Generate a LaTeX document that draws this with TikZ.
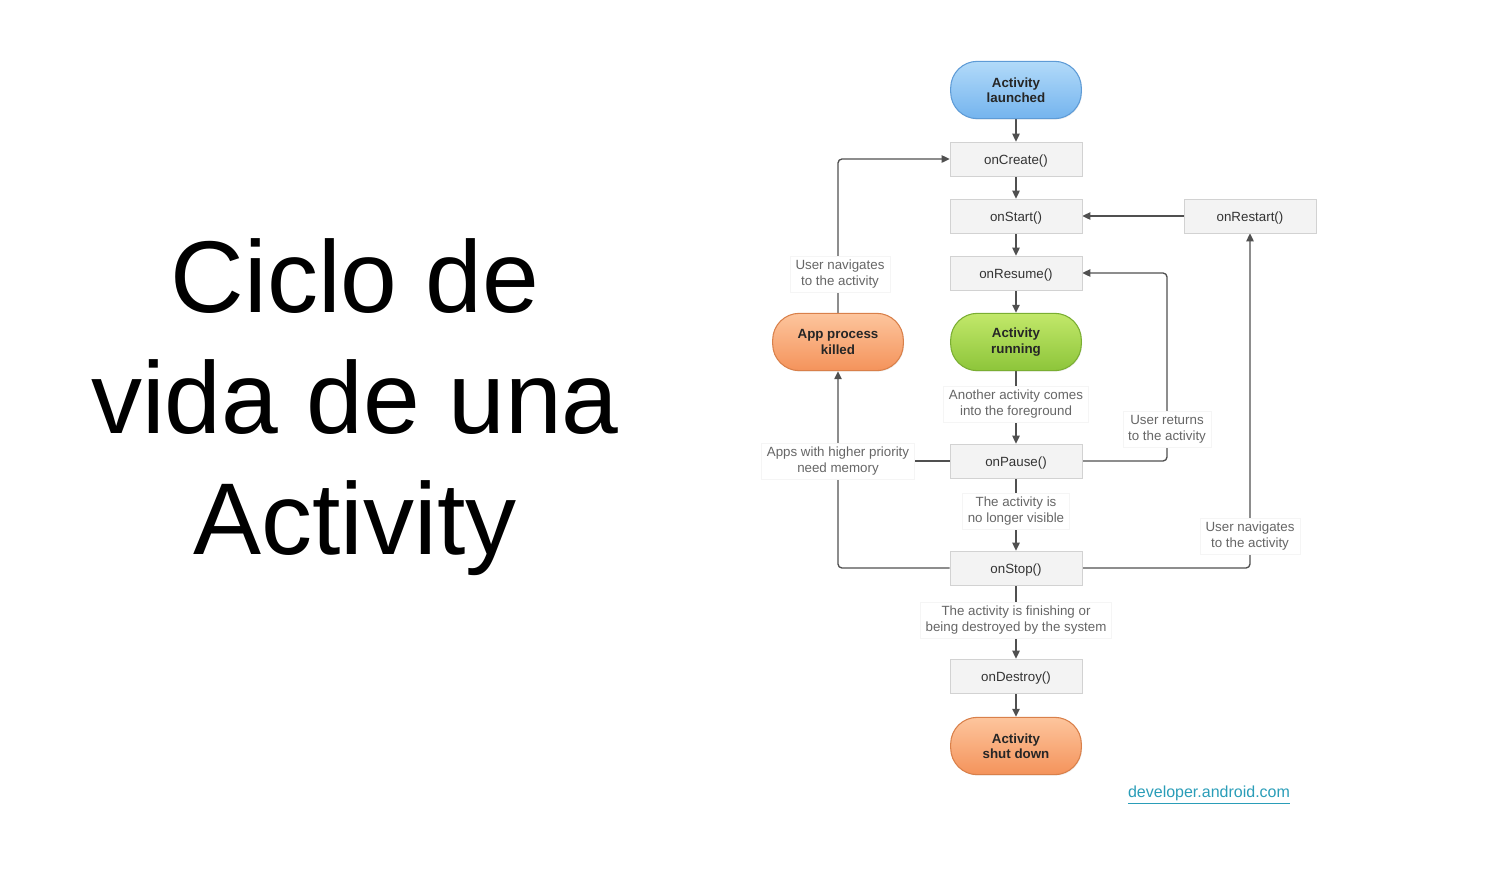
\documentclass[tikz,border=0pt]{standalone}
\usepackage{fontspec}
\setmainfont{Liberation Sans}
\usetikzlibrary{arrows.meta,shadows,backgrounds}
\definecolor{boxfill}{HTML}{F3F3F3}
\definecolor{boxline}{HTML}{D2D2D2}
\definecolor{txt}{HTML}{333333}
\definecolor{notetxt}{HTML}{666666}
\definecolor{linec}{HTML}{505050}
\definecolor{bluetop}{HTML}{B2DAF9}
\definecolor{bluebot}{HTML}{74B4EE}
\definecolor{blueline}{HTML}{5E9BD6}
\definecolor{greentop}{HTML}{C2E86A}
\definecolor{greenbot}{HTML}{8DC53A}
\definecolor{greenline}{HTML}{7AAE32}
\definecolor{orangetop}{HTML}{FDC59D}
\definecolor{orangebot}{HTML}{F4935B}
\definecolor{orangeline}{HTML}{D9804A}
\definecolor{link}{HTML}{2A9DB8}
\begin{document}
\begin{tikzpicture}[x=0.75pt,y=-0.75pt,
  method/.style={draw=boxline, fill=boxfill, minimum width=99pt, minimum height=25.5pt, inner sep=0pt,
    text height=9pt, text depth=1pt,
    font=\fontsize{10}{12}\selectfont, text=txt,
    drop shadow={opacity=0.12, shadow xshift=0.6pt, shadow yshift=-0.8pt}},
  pill/.style={rounded corners=20pt, minimum width=98pt, minimum height=43pt, inner sep=0pt, align=center,
    font=\bfseries\fontsize{10}{11.5}\selectfont, text=black!85, line width=0.8pt,
    drop shadow={opacity=0.12, shadow xshift=0.6pt, shadow yshift=-0.8pt}},
  bluepill/.style={pill, draw=blueline, top color=bluetop, bottom color=bluebot},
  greenpill/.style={pill, draw=greenline, top color=greentop, bottom color=greenbot},
  orangepill/.style={pill, draw=orangeline, top color=orangetop, bottom color=orangebot},
  note/.style={fill=white, draw=black!4, align=center, font=\fontsize{10}{12}\selectfont, text=notetxt,
    inner xsep=4pt, inner ysep=3pt},
  arr/.style={draw=linec, line width=1pt, -{Triangle[length=6pt,width=5.5pt]}, rounded corners=3pt},
  ln/.style={draw=linec, line width=1pt, rounded corners=3pt}
]
\useasboundingbox (0,0) rectangle (1503,868);

% title
\node[font=\fontsize{76.5}{90.75}\selectfont, align=center, text=black] (title) at (355,407)
  {Ciclo de\\vida de una\\Activity};

% pills
\node[bluepill] (launched) at (1016,90) {Activity\\launched};
\node[greenpill] (running) at (1016,342) {Activity\\running};
\node[orangepill] (killed) at (838,342) {App process\\killed};
\node[orangepill] (shutdown) at (1016,746) {Activity\\shut down};

% methods
\node[method] (create) at (1016,159) {onCreate()};
\node[method] (start) at (1016,216) {onStart()};
\node[method] (restart) at (1250,216) {onRestart()};
\node[method] (resume) at (1016,273) {onResume()};
\node[method] (pause) at (1016,461) {onPause()};
\node[method] (stop) at (1016,568) {onStop()};
\node[method] (destroy) at (1016,676) {onDestroy()};

% notes
\node[note] (nforeground) at (1016,404) {Another activity comes\\into the foreground};
\node[note] (nvisible) at (1016,511) {The activity is\\no longer visible};
\node[note] (nfinish) at (1016,620) {The activity is finishing or\\being destroyed by the system};
\node[note] (nnavleft) at (840,274) {User navigates\\to the activity};
\node[note] (nmemory) at (838,461) {Apps with higher priority\\need memory};
\node[note] (nreturns) at (1167,429) {User returns\\to the activity};
\node[note] (nnavright) at (1250,536) {User navigates\\to the activity};

\coordinate (cR1) at (1167,461);
\coordinate (cR2) at (1167,273);
\coordinate (cS1) at (1250,568);
\coordinate (cL1) at (838,568);
\coordinate (cP1) at (838,461);
\coordinate (cK1) at (838,159);

\begin{scope}[on background layer]
\draw[arr] (launched) -- (create);
\draw[arr] (create) -- (start);
\draw[arr] (start) -- (resume);
\draw[arr] (resume) -- (running);
\draw[arr] (running) -- (pause);
\draw[arr] (pause) -- (stop);
\draw[arr] (stop) -- (destroy);
\draw[arr] (destroy) -- (shutdown);
\draw[arr] (restart) -- (start);
\draw[arr] (pause.east) -- (cR1) -- (cR2) -- (resume.east);
\draw[arr] (stop.east) -- (cS1) -- (restart.south);
\draw[arr] (stop.west) -- (cL1) -- (killed.south);
\draw[ln] (pause.west) -- (cP1);
\draw[arr] (killed.north) -- (cK1) -- (create.west);
\end{scope}

% link
\node[text=link, font=\fontsize{12}{14}\selectfont, inner sep=0pt] (link) at (1209,793) {developer.android.com};
\draw[link, line width=0.9pt] ([yshift=-2.2pt]link.south west) -- ([yshift=-2.2pt]link.south east);
\end{tikzpicture}
\end{document}
